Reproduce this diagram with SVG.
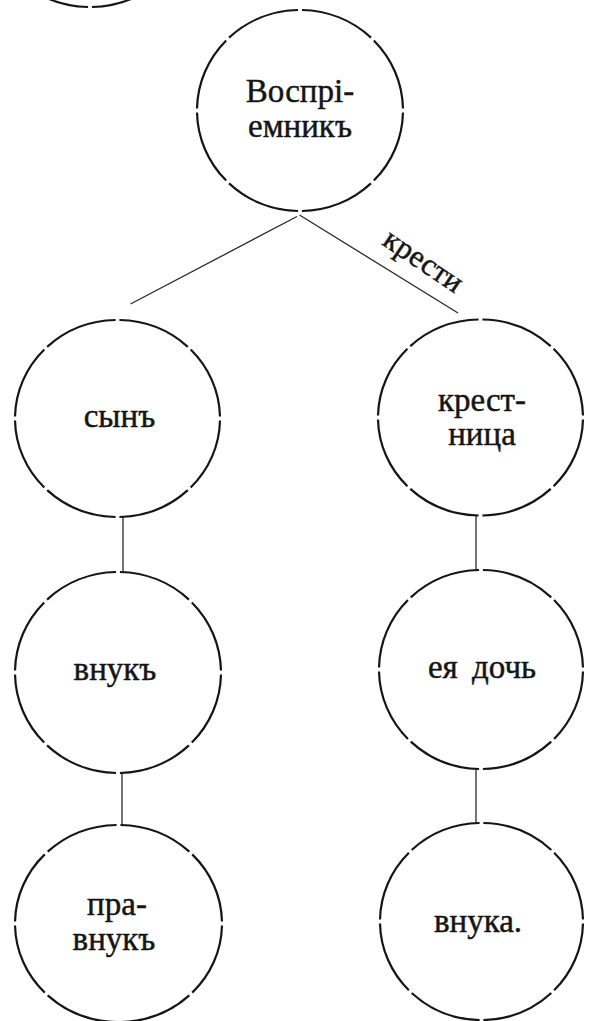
<svg xmlns="http://www.w3.org/2000/svg" width="593" height="1021" viewBox="0 0 593 1021">
<style>
.bg{fill:#ffffff}
.node{fill:none;stroke:#151515;stroke-width:2.2;stroke-dasharray:0.95 0.05;stroke-dashoffset:-0.025}
.conn{stroke:#2a2a2a;stroke-width:1.3;fill:none}
text{font-family:'Liberation Serif','DejaVu Serif','Times New Roman',serif;fill:#151515;stroke:#151515;stroke-width:0.45;text-anchor:middle}
.lbl{font-size:33px}
.elbl{font-size:31px}
</style>
<rect class="bg" x="0" y="0" width="593" height="1021"/>
<g id="partial-node">
<ellipse class="node" cx="90" cy="-93" rx="103" ry="100" pathLength="8"/>
</g>
<g id="connectors">
<line class="conn" x1="297" y1="216.5" x2="130.5" y2="304"/>
<line class="conn" x1="299.5" y1="215" x2="458" y2="313"/>
<line class="conn" x1="123" y1="517" x2="123" y2="572"/>
<line class="conn" x1="476" y1="516" x2="476" y2="570"/>
<line class="conn" x1="122" y1="773" x2="122" y2="825"/>
<line class="conn" x1="476" y1="769" x2="476" y2="823"/>
<text class="elbl" transform="translate(418 269) rotate(34)">крести</text>
</g>
<g id="node-vospriemnik">
<ellipse class="node" cx="300" cy="110.5" rx="103" ry="100.5" pathLength="8"/>
<text class="lbl" x="300" y="102">Воспрі-</text>
<text class="lbl" x="300" y="137">емникъ</text>
</g>
<g id="node-syn">
<ellipse class="node" cx="117.5" cy="418.5" rx="102.5" ry="98.5" pathLength="8"/>
<text class="lbl" x="119.5" y="427">сынъ</text>
</g>
<g id="node-krestnitsa">
<ellipse class="node" cx="480.5" cy="417.5" rx="102.5" ry="98" pathLength="8"/>
<text class="lbl" x="482" y="411">крест-</text>
<text class="lbl" x="482" y="445">ница</text>
</g>
<g id="node-vnuk">
<ellipse class="node" cx="118" cy="672.5" rx="103" ry="100.5" pathLength="8"/>
<text class="lbl" x="115" y="680">внукъ</text>
</g>
<g id="node-eya-doch">
<ellipse class="node" cx="481" cy="669.5" rx="102" ry="99.5" pathLength="8"/>
<text class="lbl" x="482" y="678" style="word-spacing:6px">ея дочь</text>
</g>
<g id="node-pravnuk">
<ellipse class="node" cx="118.5" cy="923.5" rx="103.5" ry="98.5" pathLength="8"/>
<text class="lbl" x="117" y="915">пра-</text>
<text class="lbl" x="114" y="950">внукъ</text>
</g>
<g id="node-vnuka">
<ellipse class="node" cx="481.5" cy="921.5" rx="101.5" ry="98.5" pathLength="8"/>
<text class="lbl" x="478" y="932">внука.</text>
</g>
</svg>
